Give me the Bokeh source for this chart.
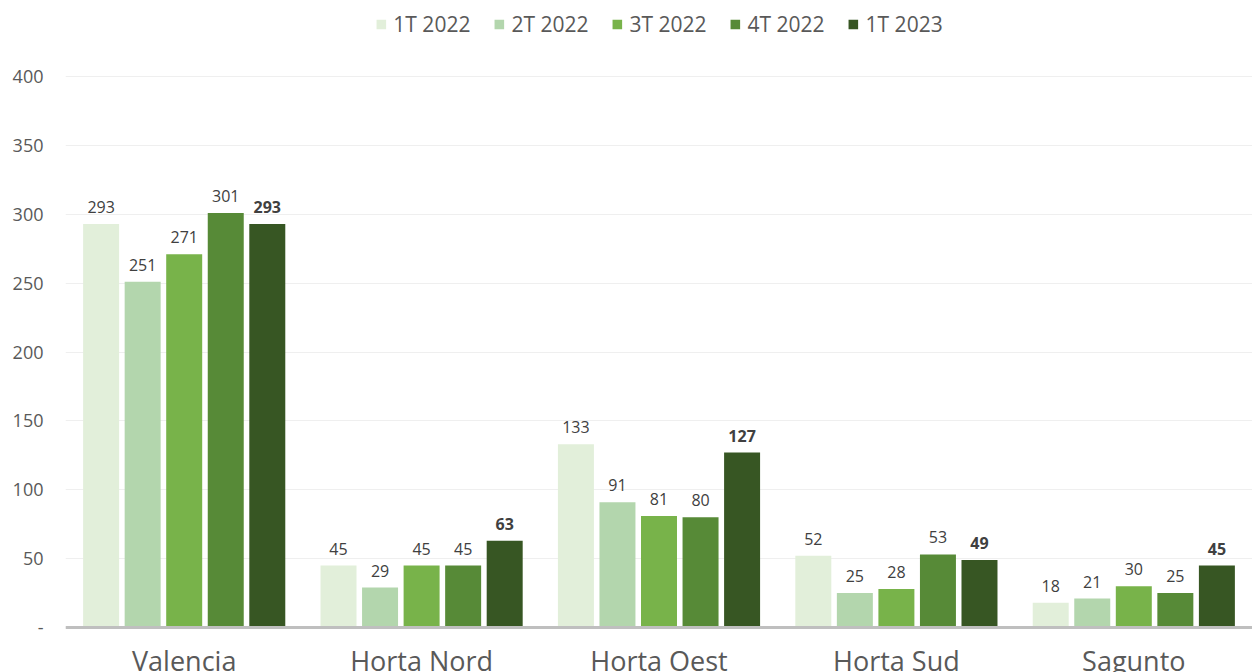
from bokeh.plotting import figure
from bokeh.models import ColumnDataSource, FixedTicker, Span, Legend, LegendItem, FactorRange, Range1d
from bokeh.transform import dodge
from bokeh.core.properties import value
from bokeh.embed import file_html
from bokeh.resources import INLINE

categories = ["Valencia", "Horta Nord", "Horta Oest", "Horta Sud", "Sagunto"]
series = ["1T 2022", "2T 2022", "3T 2022", "4T 2022", "1T 2023"]
v_1t22 = [293, 45, 133, 52, 18]
v_2t22 = [251, 29, 91, 25, 21]
v_3t22 = [271, 45, 81, 28, 30]
v_4t22 = [301, 45, 80, 53, 25]
v_1t23 = [293, 63, 127, 49, 45]
y_ticks = [0, 50, 100, 150, 200, 250, 300, 350, 400]

colors = ["#E2EFDA", "#B3D6AD", "#78B34A", "#578A37", "#375623"]
all_vals = [v_1t22, v_2t22, v_3t22, v_4t22, v_1t23]
offsets = [-0.35, -0.175, 0.0, 0.175, 0.35]

FONT = "Open Sans"

data = {"cat": categories}
for i, vals in enumerate(all_vals):
    data[f"v{i}"] = vals
    data[f"t{i}"] = [str(v) for v in vals]
src = ColumnDataSource(data)

p = figure(
    x_range=FactorRange(factors=categories),
    y_range=Range1d(-32.67, 455.2),
    width=1252, height=672,
    min_border_left=65, min_border_right=0, min_border_top=0, min_border_bottom=0,
    x_axis_location=None,
    output_backend="svg", toolbar_location=None,
)
p.outline_line_color = None
p.background_fill_color = "white"
p.border_fill_color = "white"

p.xgrid.grid_line_color = None
p.ygrid.ticker = FixedTicker(ticks=y_ticks)
p.ygrid.grid_line_color = "#EFEFEF"
p.ygrid.grid_line_width = 1

ax = p.yaxis[0]
ax.ticker = FixedTicker(ticks=y_ticks)
ax.axis_line_color = None
ax.major_tick_line_color = None
ax.minor_tick_line_color = None
ax.major_tick_out = 0
ax.major_tick_in = 0
ax.major_label_standoff = 22
ax.major_label_text_font = FONT
ax.major_label_text_font_size = "18px"
ax.major_label_text_color = "#595959"
ax.major_label_overrides = {0: "-"}

renderers = []
for i in range(5):
    r = p.vbar(x=dodge("cat", offsets[i], range=p.x_range), top=f"v{i}", width=0.1516,
               source=src, fill_color=colors[i], line_color=None)
    renderers.append(r)
    p.text(x=dodge("cat", offsets[i], range=p.x_range), y=f"v{i}", text=f"t{i}", source=src,
           text_align="center", text_baseline="alphabetic", y_offset=-17,
           text_font=value(FONT), text_font_size="16px", text_color="#404040",
           text_font_style="bold" if i == 4 else "normal")

p.text(x="cat", y=-24.0, text="cat", source=src, text_align="center", text_baseline="alphabetic",
       text_font=value(FONT), text_font_size="27px", text_color="#595959")

p.add_layout(Span(location=0, dimension="width", line_color="#BFBFBF", line_width=3))

legend = Legend(items=[LegendItem(label=series[i], renderers=[renderers[i]]) for i in range(5)],
                location="top_center", orientation="horizontal")
legend.label_text_font = FONT
legend.label_text_font_size = "21px"
legend.label_text_color = "#595959"
legend.glyph_width = 12
legend.glyph_height = 12
legend.label_standoff = 7
legend.spacing = 22
legend.padding = 0
legend.margin = 10
legend.background_fill_alpha = 0
legend.border_line_color = None
p.add_layout(legend)

open("out.html", "w").write(file_html(p, INLINE))
